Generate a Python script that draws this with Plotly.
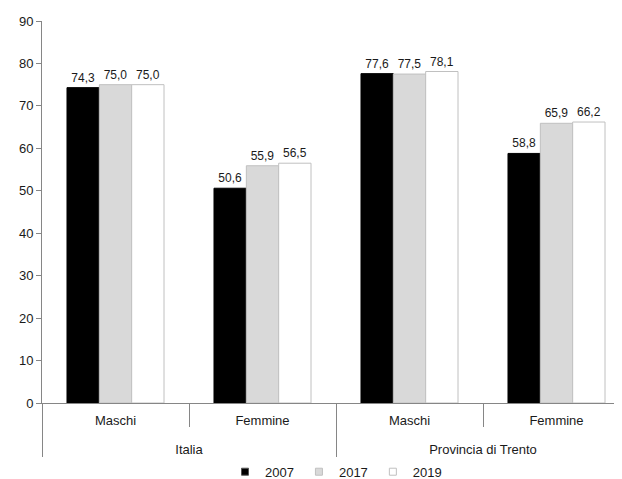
import plotly.graph_objects as go

territori = ["Italia", "Italia", "Provincia di Trento", "Provincia di Trento"]
sesso = ["Maschi", "Femmine", "Maschi", "Femmine"]

anni = ["2007", "2017", "2019"]
valori_2007 = [74.3, 50.6, 77.6, 58.8]
valori_2017 = [75.0, 55.9, 77.5, 65.9]
valori_2019 = [75.0, 56.5, 78.1, 66.2]

colori = ["#000000", "#d9d9d9", "#ffffff"]
bordi = ["#000000", "#c0c0c0", "#c0c0c0"]

font_family = "Liberation Sans, Arial, sans-serif"

# leading line break pushes the outer level further down, as in the original
x_cat = [["<br>" + t for t in territori], sesso]

fig = go.Figure()
for anno, valori, colore, bordo in zip(anni, [valori_2007, valori_2017, valori_2019], colori, bordi):
    fig.add_bar(
        x=x_cat,
        y=valori,
        name=anno,
        marker=dict(color=colore, line=dict(color=bordo, width=1)),
        texttemplate="%{y:.1f}",
        textposition="outside",
        textfont=dict(size=12, color="#1a1a1a"),
        cliponaxis=False,
        showlegend=False,
    )
    # small square legend entries, like the original
    fig.add_scatter(
        x=[None],
        y=[None],
        mode="markers",
        name=anno,
        marker=dict(symbol="square", size=7, color=colore, line=dict(color=bordo if colore != "#000000" else "#555555", width=1)),
    )

# page body adds 8px, so margins are shifted to compensate
fig.update_layout(
    width=622,
    height=479,
    barmode="group",
    bargap=0.34,
    bargroupgap=0,
    separators=",.",
    plot_bgcolor="white",
    paper_bgcolor="white",
    font=dict(family=font_family, size=12, color="#1a1a1a"),
    margin=dict(l=34, r=0, t=13, b=80),
    legend=dict(
        orientation="h",
        x=0.5,
        xanchor="center",
        y=-0.18,
        yanchor="middle",
        font=dict(size=13),
        itemwidth=30,
        tracegroupgap=0,
        traceorder="normal",
    ),
)

fig.update_xaxes(
    type="multicategory",
    range=[-0.5, 3.5],
    automargin=False,
    showline=True,
    linecolor="#868686",
    linewidth=1,
    ticks="outside",
    tickson="boundaries",
    ticklen=23,
    tickcolor="#868686",
    ticklabelstandoff=5,
    dividercolor="#868686",
    dividerwidth=1,
    tickfont=dict(size=13),
    showgrid=False,
)

fig.update_yaxes(
    range=[0, 90],
    dtick=10,
    automargin=False,
    showline=True,
    linecolor="#868686",
    linewidth=1,
    ticks="outside",
    ticklen=5,
    tickcolor="#868686",
    showgrid=False,
    zeroline=False,
    tickfont=dict(size=13),
)

fig.write_html("out.html")
